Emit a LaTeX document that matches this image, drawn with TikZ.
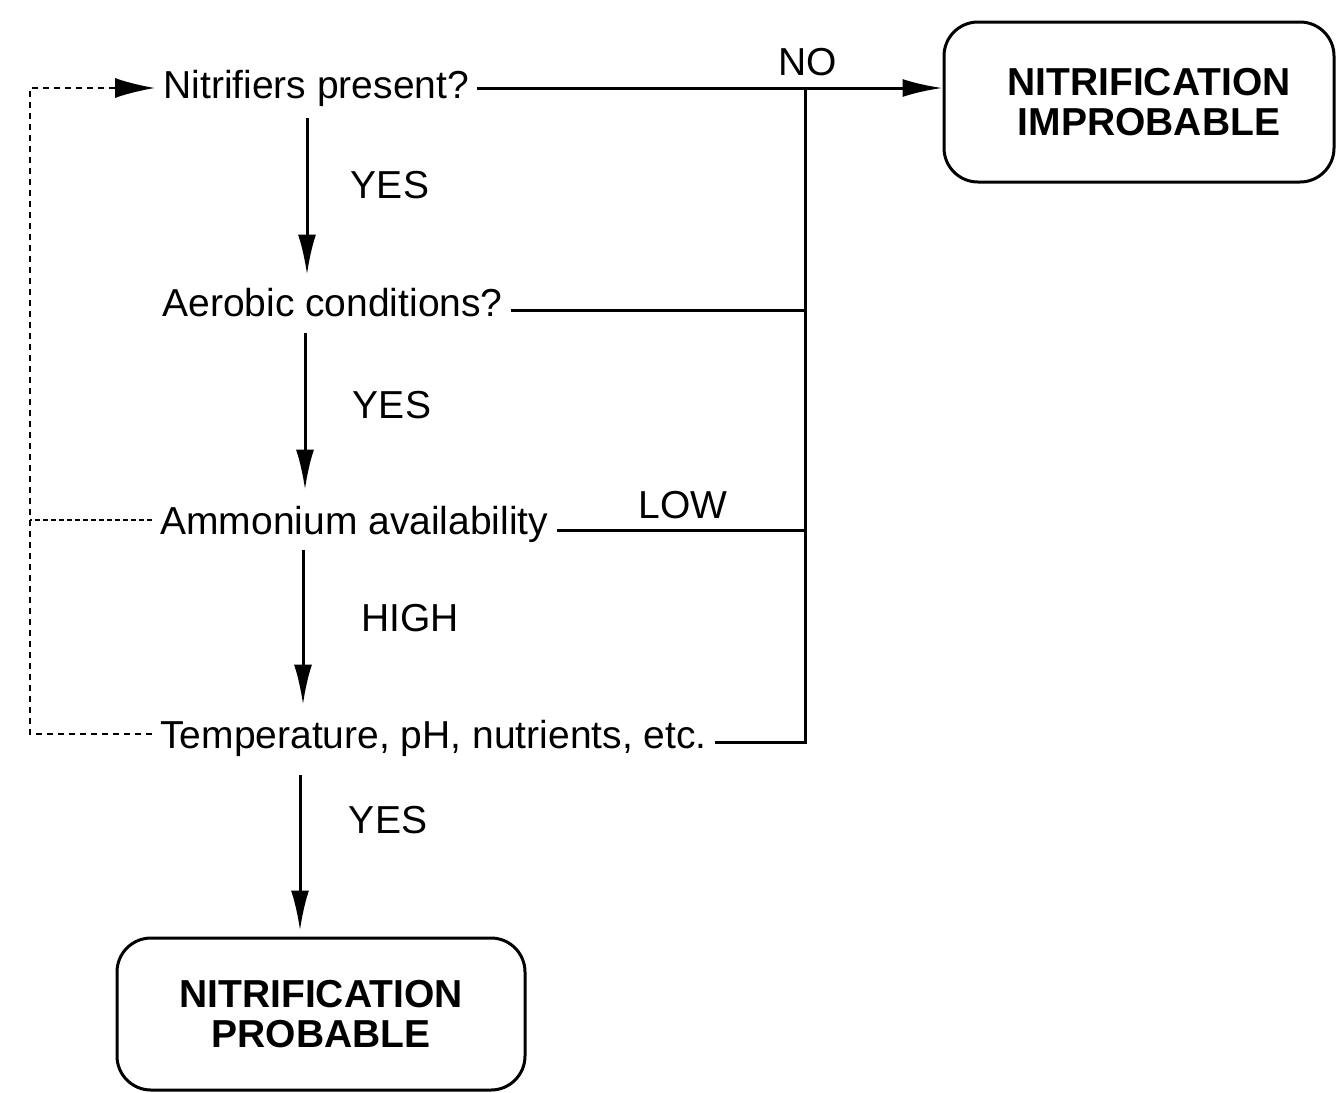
\documentclass[tikz,border=0pt]{standalone}
\usepackage{fontspec}
\setmainfont{Liberation Sans}
\usetikzlibrary{arrows.meta}
\begin{document}
\begin{tikzpicture}[x=0.5pt,y=-0.5pt,
  q/.style={font=\fontsize{19.5}{20}\selectfont, inner xsep=4pt, inner ysep=0pt, text height=14pt, text depth=4pt, anchor=west},
  lbl/.style={font=\fontsize{19.5}{20}\selectfont, inner sep=0pt},
  endbox/.style={draw, line width=1.5pt, rounded corners=17pt, align=center, font=\fontsize{19.5}{20}\selectfont\bfseries},
  main/.style={line width=1.5pt},
  arr/.style={main, -{Latex[length=20pt,width=9pt]}},
  loopline/.style={line width=1pt, dash pattern=on 3pt off 2.5pt},
  dotline/.style={line width=1.1pt, dash pattern=on 2.5pt off 1.5pt},
]
\useasboundingbox (0,0) rectangle (1337,1092);

% question nodes
\node[q] (nit) at (155,88) {Nitrifiers present?};
\node[q] (aer) at (154,306) {Aerobic conditions?};
\node[q] (amm) at (152,524) {Ammonium availability};
\node[q] (tem) at (152,738) {Temperature, pH, nutrients, etc.};

% end boxes
\node[endbox, minimum width=195pt, minimum height=80pt] (imp) at (1139,102) {\hspace*{10pt}NITRIFICATION\\\hspace*{10pt}IMPROBABLE};
\node[endbox, minimum width=204pt, minimum height=76pt] (prob) at (321,1014) {NITRIFICATION\\PROBABLE};

% labels
\node[lbl] (lno) at (808,62) {NO};
\node[lbl] (lyes1) at (390,185) {YES};
\node[lbl] (lyes2) at (392,405) {YES};
\node[lbl] (lhigh) at (410,618) {HIGH};
\node[lbl] (lyes3) at (388,820) {YES};
\node[lbl] (llow) at (683,505) {LOW};

% helper coordinates
\coordinate (jx) at (805,0);
\coordinate (lx) at (30,0);
\coordinate (v1) at (307,0);
\coordinate (v2) at (305,0);
\coordinate (v3) at (303,0);
\coordinate (v4) at (300,0);

% vertical arrows
\draw[arr, shorten <=6pt, shorten >=6.5pt] (nit.south -| v1) -- (aer.north -| v1);
\draw[arr, shorten <=4.5pt, shorten >=8pt] (aer.south -| v2) -- (amm.north -| v2);
\draw[arr, shorten <=4pt, shorten >=7.5pt] (amm.south -| v3) -- (tem.north -| v3);
\draw[arr, shorten <=9.5pt, shorten >=3pt] (tem.south -| v4) -- (prob.north -| v4);

% right-hand NO collector
\draw[arr] (nit.east) -- (nit.east -| imp.west);
\draw[main] ([yshift=-2pt]tem.east) -| (nit.east -| jx);
\draw[main] ([yshift=-2pt]aer.east) -- ([yshift=-2pt]aer.east -| jx);
\draw[main] ([yshift=-3pt]amm.east) -- ([yshift=-3pt]amm.east -| jx);

% left-hand dashed feedback loop
\draw[loopline, -{Latex[length=20pt,width=10pt]}] ([yshift=2pt]tem.west) -- ([yshift=2pt]tem.west -| lx) |- (nit.west);
\draw[dotline] ([yshift=2pt]amm.west) -- ([yshift=2pt]amm.west -| lx);
\end{tikzpicture}
\end{document}
